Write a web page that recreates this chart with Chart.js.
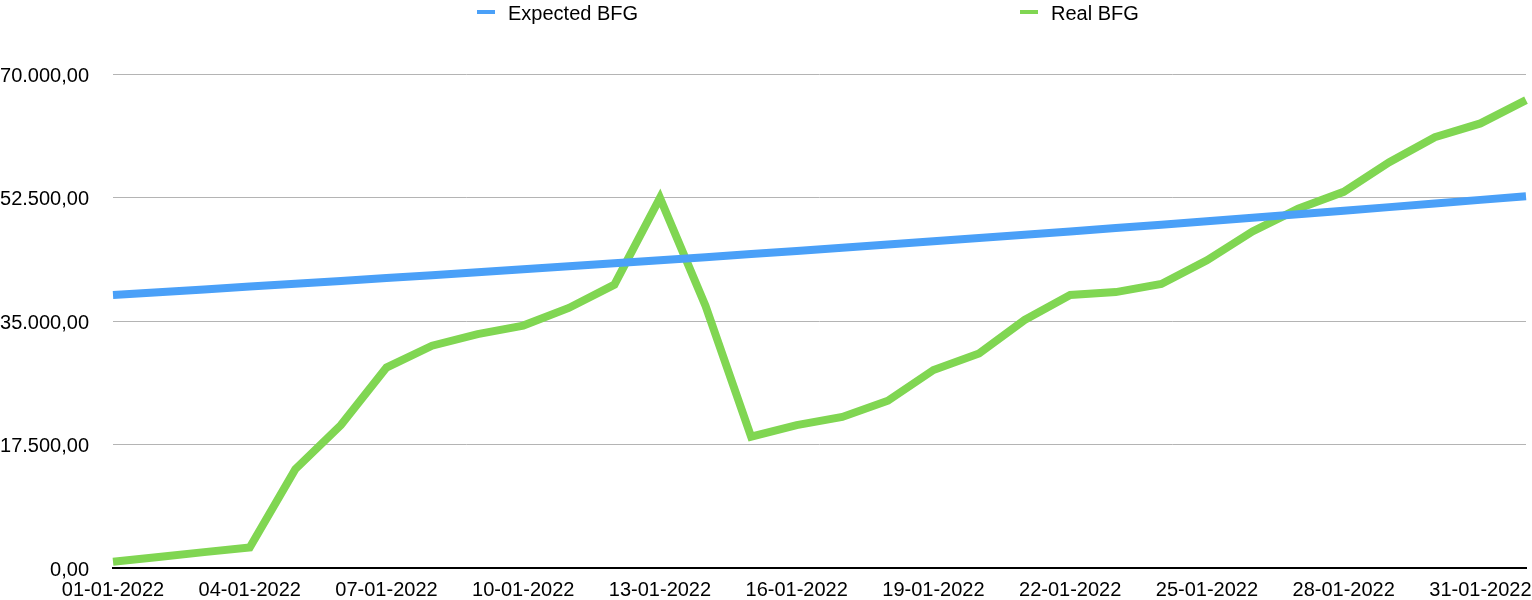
<!DOCTYPE html>
<html>
<head>
<meta charset="utf-8">
<title>Expected vs Real BFG</title>
<script src="https://cdn.jsdelivr.net/npm/chart.js"></script>
<style>
    html, body { margin: 0; padding: 0; background: #fff; }
    #wrap { position: relative; width: 1532px; height: 600px; }
    #legend {
        position: absolute; top: 3px; left: 477px;
        display: flex; font-family: "Liberation Sans", Arial, Helvetica, sans-serif;
        font-size: 20px; line-height: 20px; color: #000;
    }
    #legend .item { display: flex; align-items: center; width: 543px; }
    #legend .mark { display: inline-block; width: 18px; height: 4px; margin-right: 13px; margin-top: -2px; }
</style>
</head>
<body>
<div id="wrap">
    <canvas id="bfgChart"></canvas>
    <div id="legend"></div>
</div>
<script>
// Datums (één per dag, laatste punt zonder label)
const dates = [
    '01-01-2022', '02-01-2022', '03-01-2022', '04-01-2022', '05-01-2022', '06-01-2022',
    '07-01-2022', '08-01-2022', '09-01-2022', '10-01-2022', '11-01-2022', '12-01-2022',
    '13-01-2022', '14-01-2022', '15-01-2022', '16-01-2022', '17-01-2022', '18-01-2022',
    '19-01-2022', '20-01-2022', '21-01-2022', '22-01-2022', '23-01-2022', '24-01-2022',
    '25-01-2022', '26-01-2022', '27-01-2022', '28-01-2022', '29-01-2022', '30-01-2022',
    '31-01-2022', '01-02-2022'
];

const expectedBFG = [
    38700, 39087, 39478, 39873, 40271, 40674, 41081, 41492, 41907, 42326, 42749,
    43177, 43608, 44044, 44485, 44930, 45379, 45833, 46291, 46754, 47222, 47694,
    48171, 48653, 49139, 49631, 50127, 50628, 51135, 51646, 52162, 52684
];

const realBFG = [
    900, 1550, 2250, 2900, 14000, 20250, 28400, 31500, 33150, 34350, 36850,
    40150, 52450, 37150, 18600, 20250, 21400, 23700, 28050, 30400, 35150, 38700,
    39100, 40250, 43600, 47700, 50900, 53300, 57500, 61050, 63000, 66300
];

const yTicks = [0, 17500, 35000, 52500, 70000];

const FONT = '"Liberation Sans", Arial, Helvetica, sans-serif';

// 70000 -> "70.000,00"
function formatNumber(v) {
    const parts = Math.round(v).toString().replace(/\B(?=(\d{3})+(?!\d))/g, '.');
    return parts + ',00';
}

const ctx = document.getElementById('bfgChart').getContext('2d');
const chart = new Chart(ctx, {
    type: 'line',
    data: {
        labels: dates,
        datasets: [{
            label: 'Expected BFG',
            data: expectedBFG,
            borderColor: '#4AA0F8',
            backgroundColor: '#4AA0F8',
            borderWidth: 8,
            pointRadius: 0,
            tension: 0,
            borderJoinStyle: 'miter'
        }, {
            label: 'Real BFG',
            data: realBFG,
            borderColor: '#80D652',
            backgroundColor: '#80D652',
            borderWidth: 8,
            pointRadius: 0,
            tension: 0,
            borderJoinStyle: 'miter'
        }]
    },
    options: {
        responsive: true,
        maintainAspectRatio: false,
        animation: false,
        layout: { padding: { top: 74, right: 6, bottom: 0, left: 0 } },
        plugins: {
            legend: { display: false },
            tooltip: { enabled: false }
        },
        scales: {
            x: {
                offset: false,
                // onzichtbare tick-streepjes zorgen voor de afstand tot de labels
                grid: { display: true, color: 'transparent', drawTicks: true, tickLength: 10, tickColor: 'transparent' },
                border: { display: true, color: '#000', width: 2 },
                afterFit: scale => { scale.height = 32; },
                ticks: {
                    autoSkip: false,
                    maxRotation: 0,
                    padding: 0,
                    color: '#000',
                    font: { family: FONT, size: 20 },
                    callback: (value, index) => index % 3 === 0 ? dates[index] : ''
                }
            },
            y: {
                min: yTicks[0],
                max: yTicks[yTicks.length - 1],
                afterFit: scale => { scale.width = 113; },
                afterBuildTicks: scale => { scale.ticks = yTicks.map(v => ({ value: v })); },
                grid: { color: '#B4B4B4', lineWidth: 1, drawTicks: true, tickLength: 24, tickColor: 'transparent' },
                border: { display: false },
                ticks: {
                    padding: 0,
                    labelOffset: 2,
                    color: '#000',
                    font: { family: FONT, size: 20 },
                    callback: v => formatNumber(v)
                }
            }
        }
    }
});

// Legenda als HTML, opgebouwd uit de datasets
const legendEl = document.getElementById('legend');
chart.data.datasets.forEach(ds => {
    const item = document.createElement('div');
    item.className = 'item';
    const mark = document.createElement('span');
    mark.className = 'mark';
    mark.style.background = ds.borderColor;
    const text = document.createElement('span');
    text.textContent = ds.label;
    item.appendChild(mark);
    item.appendChild(text);
    legendEl.appendChild(item);
});
</script>
</body>
</html>
